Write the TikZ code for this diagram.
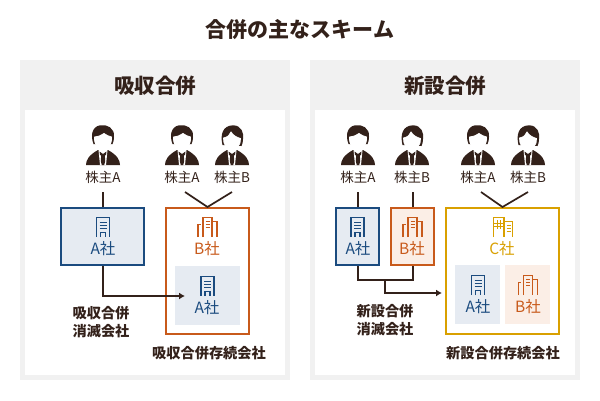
\documentclass[tikz,border=0pt]{standalone}
\usepackage{fontspec}
\setmainfont{Noto Sans CJK JP}
\usetikzlibrary{arrows.meta,positioning,calc}
\definecolor{SchemeInk}{HTML}{33211A}
\definecolor{SchemePanel}{HTML}{F1F1F1}
\definecolor{CompanyA}{HTML}{1B4B7F}
\definecolor{CompanyB}{HTML}{C85A1B}
\definecolor{CompanyC}{HTML}{D9A000}
\definecolor{TintA}{HTML}{E6EBF2}
\definecolor{TintB}{HTML}{FBEEE6}
\newcommand{\holderbody}{%
  \fill[SchemeInk] (-17,40) .. controls (-17,35) and (-14,30) .. (-5,25) -- (5,25)
    .. controls (14,30) and (17,35) .. (17,40) -- cycle;
  \fill[white] (-4.5,25) -- (4.5,25) -- (3,40) -- (-3,40) -- cycle;
  \fill[SchemeInk] (-1.8,30) -- (1.8,30) -- (2.2,36) -- (1.2,40) -- (-1.2,40) -- (-2.2,36) -- cycle;
  \fill[SchemeInk] (-3.5,26.5) -- (0,29) -- (3.5,26.5) -- (3,30) -- (0,31) -- (-3,30) -- cycle;
}
\tikzset{
  pics/holdera/.style={code={
    \holderbody
    \fill[SchemeInk] (-9.5,19) .. controls (-12.5,11) and (-11.5,2) .. (-3,0.3)
      .. controls (4,-1) and (12,3) .. (11,12) .. controls (11,15) and (10.5,17) .. (9.5,19) -- cycle;
    \filldraw[fill=white, draw=white, line width=.8pt] (-8.5,12) .. controls (-4,11.5) and (-1,10) .. (1,8.5)
      .. controls (3,10.5) and (6,11) .. (8.5,12) .. controls (9,20) and (4.5,24.5) .. (0,24.5)
      .. controls (-4.5,24.5) and (-9,20) .. (-8.5,12) -- cycle;
  }},
  pics/holderb/.style={code={
    \holderbody
    \fill[SchemeInk] (-9.5,20) .. controls (-12,10) and (-9.5,0.5) .. (1,0.3)
      .. controls (9.5,0.3) and (12,8) .. (11,14) .. controls (11,17) and (10.5,19) .. (9.5,21) -- cycle;
    \filldraw[fill=white, draw=white, line width=.8pt] (-8.5,13) .. controls (-4,12) and (-2,10) .. (-1,7)
      .. controls (1,10.5) and (5,12.5) .. (8.5,13.5) .. controls (9,20) and (4.5,24.5) .. (0,24.5)
      .. controls (-4.5,24.5) and (-9,20) .. (-8.5,13) -- cycle;
  }},
  pics/bldga/.style={code={
    \draw[#1, line width=1.1pt] (-6.5,20) -- (-6.5,.6) -- (6.5,.6) -- (6.5,20);
    \draw[#1, line width=.8pt] (-3.5,5) -- (3.5,5) (-3.5,8) -- (3.5,8) (-3.5,11) -- (3.5,11);
    \draw[#1, line width=1.1pt] (-2.5,20) -- (-2.5,15.5) -- (2.5,15.5) -- (2.5,20);
  }},
  pics/bldgb/.style={code={
    \draw[#1, line width=1.1pt] (-4.5,20) -- (-4.5,.6) -- (4.5,.6) -- (4.5,20);
    \draw[#1, line width=.8pt] (-2,4.5) -- (2,4.5) (-2,7.5) -- (2,7.5) (-2,10.5) -- (2,10.5);
    \draw[#1, line width=1.1pt] (-9.5,20) -- (-9.5,7.5) -- (-7,7.5);
    \draw[#1, line width=1.1pt] (4.5,4.5) -- (9.5,4.5) -- (9.5,20);
  }},
  pics/bldgc/.style={code={
    \draw[#1, line width=1.1pt] (-9.5,20) -- (-9.5,.6) -- (1,.6) -- (1,20);
    \draw[#1, line width=.8pt] (-9.5,6) -- (1,6) (-9.5,9.5) -- (1,9.5) (-6,3) -- (-6,12) (-2.5,3) -- (-2.5,12);
    \draw[#1, line width=1.1pt] (1,4.5) -- (9.5,4.5) -- (9.5,20);
    \draw[#1, line width=.8pt] (3.5,8) -- (7.5,8) (3.5,11) -- (7.5,11) (3.5,14) -- (7.5,14);
  }}
}
\begin{document}
\begin{tikzpicture}[
        x=1pt, y=-1pt,
        panel/.style={fill=SchemePanel, minimum width=270pt, minimum height=320pt, inner sep=0pt},
        sheet/.style={fill=white, minimum width=260pt, minimum height=265pt, inner sep=0pt},
        heading/.style={font=\fontsize{20.5}{24}\selectfont\bfseries, text=SchemeInk, inner sep=0pt},
        holder/.style={font=\fontsize{13.5}{15}\selectfont, text=SchemeInk, inner sep=0pt,
          minimum height=16pt, outer ysep=7pt},
        company/.style={line width=2pt, inner sep=0pt, minimum height=57pt},
        tint/.style={inner sep=0pt, minimum height=59pt},
        cname/.style={font=\fontsize{15.5}{16}\selectfont, inner sep=0pt},
        note/.style={font=\fontsize{14.2}{18}\selectfont\bfseries, text=SchemeInk, align=center, inner sep=0pt},
        link/.style={draw=SchemeInk, line width=2pt},
        arrow/.style={link, -{Latex[length=6pt, width=7pt]}}
      ]
        \useasboundingbox (0,0) rectangle (600,400);
        \fill[white] (0,0) rectangle (600,400);
        \node[heading, font=\fontsize{21}{24}\selectfont\bfseries] (title) at (300,30) {合併の主なスキーム};

        % left panel
        \node[panel] (panelL) at (155,220) {};
        \node[sheet] (sheetL) at (155,242.5) {};
        \node[heading] (headL) at (155,86) {吸収合併};
        \pic at (103,125) {holdera};
        \pic at (182,125) {holdera};
        \pic at (232,125) {holderb};
        \node[holder] (hA) at (103,177) {株主A};
        \node[holder] (hB1) at (182,177) {株主A};
        \node[holder] (hB2) at (232,177) {株主B};
        \node[company, draw=CompanyA, fill=TintA, minimum width=83pt] (boxA) at (102.5,236.5) {};
        \node[company, draw=CompanyB, minimum width=83pt, minimum height=126pt] (boxB) at (207.5,271) {};
        \node[tint, fill=TintA, minimum width=65pt] (subA) at (207.5,295.5) {};
        \pic at (103,217) {bldga=CompanyA};
        \pic at (207.5,217) {bldgb=CompanyB};
        \pic at (207.5,276) {bldga=CompanyA};
        \node[cname, text=CompanyA] (nameA) at (103,249) {A社};
        \node[cname, text=CompanyB] (nameB) at (207,249) {B社};
        \node[cname, text=CompanyA] (nameSubA) at (207,308) {A社};
        \coordinate (tipL) at (185,296);
        \draw[link] (boxA.north |- hA.south) -- (boxA.north);
        \draw[link, line width=1.7pt] ([xshift=3pt]hB1.south) -- (boxB.north) -- (hB2.south);
        \draw[arrow] (boxA.south) |- (tipL);
        \node[note] (lostL) at (101,322) {吸収合併\\消滅会社};
        \node[note] (keepL) at (209,353) {吸収合併存続会社};

        % right panel
        \node[panel] (panelR) at (445,220) {};
        \node[sheet] (sheetR) at (445,242.5) {};
        \node[heading] (headR) at (445,86) {新設合併};
        \pic at (358,125) {holdera};
        \pic at (412,125) {holderb};
        \pic at (478,125) {holdera};
        \pic at (528,125) {holderb};
        \node[holder] (rA) at (358,177) {株主A};
        \node[holder] (rB) at (412,177) {株主B};
        \node[holder] (rC1) at (478,177) {株主A};
        \node[holder] (rC2) at (528,177) {株主B};
        \node[company, draw=CompanyA, fill=TintA, minimum width=43pt] (boxRA) at (357.5,236.5) {};
        \node[company, draw=CompanyB, fill=TintB, minimum width=43pt] (boxRB) at (412.5,236.5) {};
        \node[company, draw=CompanyC, minimum width=113pt, minimum height=126pt] (boxC) at (502.5,271) {};
        \node[tint, fill=TintA, minimum width=45pt] (subRA) at (477.5,294.5) {};
        \node[tint, fill=TintB, minimum width=45pt] (subRB) at (527.5,294.5) {};
        \pic at (357.5,217) {bldga=CompanyA};
        \pic at (412.5,217) {bldgb=CompanyB};
        \pic at (503,217) {bldgc=CompanyC};
        \pic at (478,275) {bldga=CompanyA};
        \pic at (528,275) {bldgb=CompanyB};
        \node[cname, text=CompanyA] (nameRA) at (358,249) {A社};
        \node[cname, text=CompanyB] (nameRB) at (412,249) {B社};
        \node[cname, text=CompanyC] (nameC) at (502,249) {C社};
        \node[cname, text=CompanyA] (nameSubRA) at (478,307) {A社};
        \node[cname, text=CompanyB] (nameSubRB) at (528,307) {B社};
        \coordinate (joinR) at (385,280);
        \coordinate (tipR) at (442,293);
        \draw[link] (boxRA.north |- rA.south) -- (boxRA.north);
        \draw[link] (boxRB.north |- rB.south) -- (boxRB.north);
        \draw[link, line width=1.7pt] ([xshift=3pt]rC1.south) -- (boxC.north) -- (rC2.south);
        \draw[link] (boxRA.south) |- (joinR) -| (boxRB.south);
        \draw[arrow] (joinR) |- (tipR);
        \node[note] (lostR) at (385,320) {新設合併\\消滅会社};
        \node[note] (keepR) at (503,353) {新設合併存続会社};
      \end{tikzpicture}
\end{document}
